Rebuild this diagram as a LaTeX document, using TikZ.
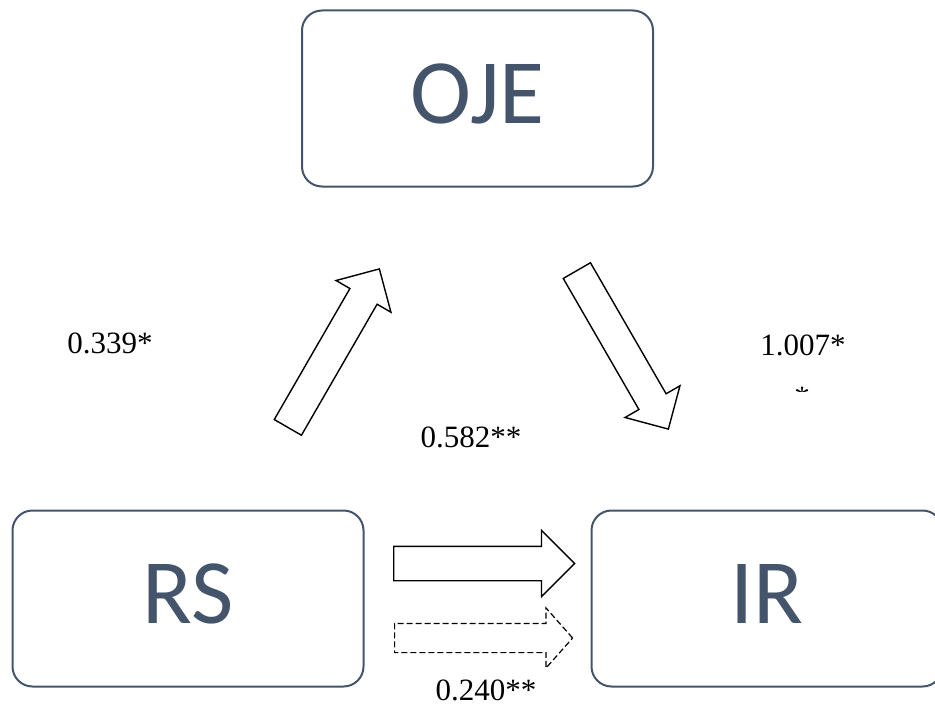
\documentclass[tikz,border=0pt]{standalone}
\usepackage{fontspec}
\setmainfont{Liberation Serif}
\newfontfamily\boxfont{Carlito}
\usetikzlibrary{shapes.arrows}

\definecolor{slate}{HTML}{44546A}

\begin{document}
\begin{tikzpicture}[
  x=1pt, y=-1pt,
  var/.style = {draw=slate, line width=2pt, rounded corners=20pt, minimum width=351pt, minimum height=176pt, text=slate, font=\boxfont\fontsize{92}{92}\selectfont, inner sep=0pt, text height=58pt, text depth=8pt},
  blk/.style = {single arrow, draw=black, line width=1.4pt, fill=white, inner xsep=0pt, text height=0pt, text depth=0pt, single arrow tip angle=90, anchor=tail},
  coef/.style = {font=\fontsize{31}{31}\selectfont, inner sep=0pt, anchor=base}
]
\useasboundingbox (0,0) rectangle (935,709);

% the three constructs
\node[var] (oje) at (477.5,98.5) {OJE};
\node[var] (rs) at (188,598.5) {RS};
\node[var] (ir) at (767,598.5) {IR};

% paths between them (placed by their tails)
\node[blk, rotate=60, minimum height=183pt, inner ysep=15pt, single arrow head extend=16pt] (rs2oje) at (287.5,428) {};
\node[blk, rotate=-60, minimum height=183pt, inner ysep=15pt, single arrow head extend=16pt] (oje2ir) at (576.5,270) {};
\node[blk, minimum height=181pt, inner ysep=16.5pt, single arrow head extend=16pt] (total) at (393,563.5) {};
\node[blk, dash pattern=on 6pt off 3pt, line width=1.2pt, minimum height=178pt, inner ysep=14pt, single arrow head extend=15.5pt, single arrow tip angle=97] (direct) at (394,638) {};

% coefficients
\node[coef] (a) at (110,353) {0.339*};
\node[coef] (b) at (803,355) {1.007*};
\node[coef] (c) at (471,447) {0.582**};
\node[coef] (cp) at (486,700) {0.240**};
\begin{scope}
  \clip (790,385) rectangle (815,391);
  \node[coef, anchor=north] (bstar) at (802,387) {*};
\end{scope}
\end{tikzpicture}
\end{document}
